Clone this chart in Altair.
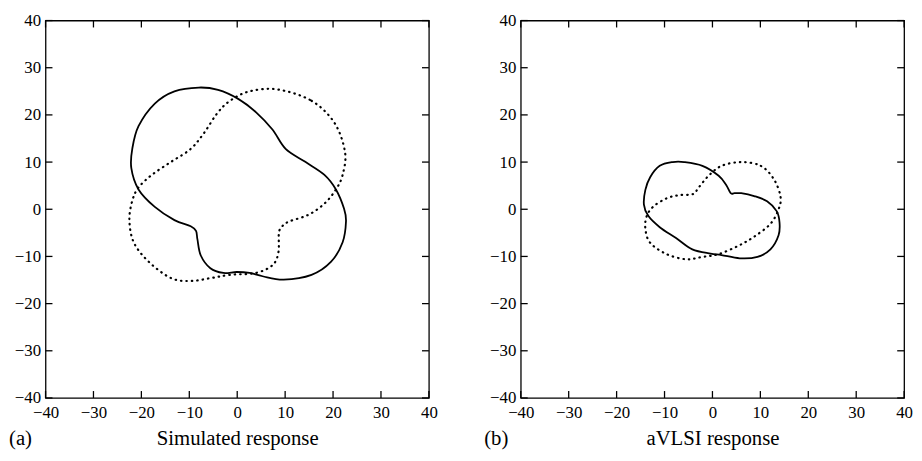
import altair as alt
import pandas as pd

FONT = "Liberation Serif, Times New Roman, serif"
TICKS = [-40, -30, -20, -10, 0, 10, 20, 30, 40]

# Panel (a): simulated response
a_solid_x = [-8.0, -4.0, 0.2, 4.0, 7.35, 10.1, 14.2, 18.2, 20.6, 22.3, 22.7, 22.0, 19.6, 15.5, 9.7,
             5.3, 2.6, -0.1, -2.9, -5.6, -7.6, -8.3, -8.6, -9.7, -13.1, -17.2, -20.6, -22.1, -21.9,
             -20.6, -17.2, -13.1]
a_solid_y = [25.8, 25.3, 23.4, 20.5, 16.9, 12.8, 10.05, 7.3, 4.2, 0.1, -2.6, -7.0, -11.1, -13.9, -14.9,
             -14.2, -13.5, -13.3, -13.5, -12.5, -9.8, -6.4, -4.6, -3.6, -2.3, 0.5, 4.2, 8.7, 12.8,
             17.6, 22.4, 25.0]
a_dot_x = [8.4, 15.5, 20.3, 22.5, 22.0, 20.6, 18.2, 14.8, 10.8, 9.4, 8.7, 8.6, 7.4, 3.9, -1.5, -5.6,
           -9.7, -13.8, -18.5, -21.6, -22.5, -21.9, -20.6, -17.8, -13.8, -9.7, -6.9, -4.2, -1.5, 2.6]
a_dot_y = [25.4, 23.0, 18.3, 12.1, 7.3, 4.2, 1.2, -1.2, -2.6, -3.6, -5.0, -9.1, -11.8, -13.5, -13.9,
           -14.6, -15.2, -14.6, -11.1, -7.0, -2.3, 1.8, 4.6, 7.3, 10.05, 12.8, 16.2, 20.3, 23.0, 25.0]

# Panel (b): aVLSI response
b_solid_x = [-5.9, -2.1, 1.3, 2.9, 3.8, 4.6, 6.0, 8.7, 11.4, 13.4, 14.0, 13.8, 12.1, 9.4, 5.7, 1.9,
             -0.4, -4.2, -7.6, -11.0, -13.4, -14.3, -14.0, -13.0, -11.0, -8.3]
b_solid_y = [10.0, 9.2, 7.1, 5.1, 3.4, 3.4, 3.4, 2.8, 1.7, -0.4, -2.8, -5.5, -8.5, -10.1, -10.4, -9.7,
             -9.4, -8.5, -6.1, -3.8, -1.4, 1.0, 4.1, 6.8, 9.2, 10.0]
b_dot_x = [6.0, 10.1, 12.8, 14.2, 13.8, 12.1, 8.7, 5.3, 1.3, -2.1, -5.5, -9.6, -13.0, -14.0, -13.7,
           -12.3, -9.6, -6.9, -4.1, -2.8, -0.8, 1.9]
b_dot_y = [10.0, 9.2, 6.4, 2.7, 0.0, -3.1, -5.8, -7.8, -9.5, -10.1, -10.6, -9.5, -7.1, -4.1, -1.4,
           0.6, 2.3, 3.0, 3.2, 4.7, 7.1, 9.2]

W, H = 388, 382


def panel(sx, sy, dx, dy, title, tag):
    scale = alt.Scale(domain=[-40, 40], nice=False, zero=False)
    xaxis = alt.Axis(values=TICKS, grid=False, ticks=False, tickSize=0, domain=False,
                     labelFont=FONT, labelFontSize=17, labelColor="black", labelPadding=7,
                     labelFlush=False, labelOverlap=False,
                     title=title, titleFont=FONT, titleFontSize=21, titleFontWeight="normal",
                     titleColor="black", titlePadding=7)
    yaxis = alt.Axis(values=TICKS, grid=False, ticks=False, tickSize=0, domain=False,
                     labelFont=FONT, labelFontSize=17, labelColor="black", labelPadding=5,
                     labelFlush=False, labelOverlap=False, title=None)
    ds = pd.DataFrame({"x": sx, "y": sy, "i": range(len(sx))})
    dd = pd.DataFrame({"x": dx, "y": dy, "i": range(len(dx))})
    tk = pd.DataFrame({"v": TICKS})

    solid = alt.Chart(ds).mark_line(color="black", strokeWidth=1.8,
                                    interpolate="cardinal-closed").encode(
        x=alt.X("x:Q", scale=scale, axis=xaxis),
        y=alt.Y("y:Q", scale=scale, axis=yaxis),
        order="i:Q")
    dotted = alt.Chart(dd).mark_line(color="black", strokeWidth=2.2, strokeDash=[0.5, 5],
                                     strokeCap="round",
                                     interpolate="cardinal-closed").encode(
        x=alt.X("x:Q", scale=scale), y=alt.Y("y:Q", scale=scale),
        order="i:Q")

    tb = alt.Chart(tk).mark_rule(color="black", strokeWidth=1.3).encode(
        x=alt.X("v:Q", scale=scale), y=alt.value(H), y2=alt.value(H - 7))
    tt = alt.Chart(tk).mark_rule(color="black", strokeWidth=1.3).encode(
        x=alt.X("v:Q", scale=scale), y=alt.value(0), y2=alt.value(7))
    tl = alt.Chart(tk).mark_rule(color="black", strokeWidth=1.3).encode(
        y=alt.Y("v:Q", scale=scale), x=alt.value(0), x2=alt.value(7))
    tr = alt.Chart(tk).mark_rule(color="black", strokeWidth=1.3).encode(
        y=alt.Y("v:Q", scale=scale), x=alt.value(W - 7), x2=alt.value(W))

    lab = alt.Chart(pd.DataFrame({"t": [tag]})).mark_text(
        align="left", baseline="middle", font=FONT, fontSize=21, color="black").encode(
        text="t:N", x=alt.value(-37), y=alt.value(H + 41.5))

    return alt.layer(solid, dotted, tb, tt, tl, tr, lab).properties(width=W, height=H)


left = panel(a_solid_x, a_solid_y, a_dot_x, a_dot_y, "Simulated response", "(a)")
right = panel(b_solid_x, b_solid_y, b_dot_x, b_dot_y, "aVLSI response", "(b)")

chart = alt.hconcat(left, right, spacing=45).properties(
    padding={"left": 0, "top": 0, "right": 0, "bottom": 0}
).configure_view(stroke="black", strokeWidth=1.3).configure_axis(
    labelFont=FONT, titleFont=FONT, labelColor="black", titleColor="black"
).configure_text(font=FONT)

chart.save("out.html", embed_options={"renderer": "svg", "actions": False})
